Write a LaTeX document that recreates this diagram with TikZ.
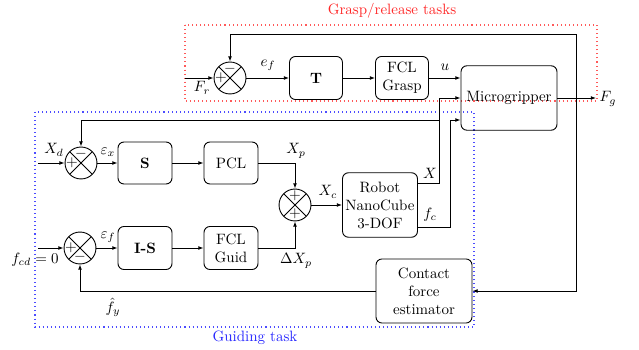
\documentclass[tikz,border=0pt]{standalone}
\usetikzlibrary{arrows.meta,calc}
\begin{document}
\begin{tikzpicture}[x=0.6667pt,y=-0.6667pt,
  blk/.style={draw,rounded corners=4pt,line width=0.6pt,align=center,inner sep=1pt},
  sumc/.style={draw,circle,line width=0.6pt,minimum size=21.3pt,inner sep=0pt,
    path picture={\draw[line width=0.6pt] (path picture bounding box.north west) -- (path picture bounding box.south east)
      (path picture bounding box.north east) -- (path picture bounding box.south west);}},
  arr/.style={-{Latex[length=3.5pt,width=2.6pt]},line width=0.6pt},
  ln/.style={line width=0.6pt},
  sgn/.style={inner sep=0pt}]
\useasboundingbox (0,0) rectangle (639,350);

% frames
\draw[red!65,dotted,line width=0.7pt] (185,25) rectangle (597,101);
\node[red!85] at (392,11) {Grasp/release tasks};
\draw[blue!70,dotted,line width=0.7pt] (35,112) rectangle (474,327);
\node[blue!85] at (255,338) {Guiding task};

% grasp row
\node[sumc] (sT) at (230,78) {};
\node[blk,minimum width=35.3pt,minimum height=28.7pt] (T) at (316,78) {\textbf{T}};
\node[blk,minimum width=35.3pt,minimum height=28.7pt] (FG) at (402,78) {FCL\\Grasp};
\node[blk,minimum width=64pt,minimum height=43pt] (MG) at (509,98) {Microgripper};

% guiding rows
\node[sumc] (sX) at (81,163) {};
\node[blk,minimum width=36pt,minimum height=28pt] (S) at (145,163) {\textbf{S}};
\node[blk,minimum width=36pt,minimum height=28pt] (PCL) at (231,163) {PCL};
\node[sumc] (sC) at (295,205) {};
\node[blk,minimum width=50pt,minimum height=43pt] (R) at (380,205) {Robot\\NanoCube\\3-DOF};
\node[sumc] (sF) at (80,248) {};
\node[blk,minimum width=36pt,minimum height=28.7pt] (IS) at (145,248) {\textbf{I-S}};
\node[blk,minimum width=36pt,minimum height=28.7pt] (FGu) at (231,248) {FCL\\Guid};
\node[blk,minimum width=64pt,minimum height=42.7pt] (CFE) at (424,291) {Contact\\force\\estimator};

% signs
\node[sgn] at ($(sT)+(0,-9)$) {$-$};
\node[sgn] at ($(sT)+(-9,0)$) {$+$};
\node[sgn] at ($(sX)+(0,-9)$) {$-$};
\node[sgn] at ($(sX)+(-9,0)$) {$+$};
\node[sgn] at ($(sC)+(0,-9)$) {$+$};
\node[sgn] at ($(sC)+(0,9)$) {$+$};
\node[sgn] at ($(sF)+(-9,0)$) {$+$};
\node[sgn] at ($(sF)+(0,9)$) {$-$};

% coordinates
\coordinate (Fr) at (185,78);
\coordinate (Xd) at (38,163);
\coordinate (fcd) at (38,248);
\coordinate (Xo) at (418,183);
\coordinate (Xb) at (439,98);
\coordinate (Xj) at (439,120);
\coordinate (fo) at (418,227);
\coordinate (fb) at (450,120);
\coordinate (Fg) at (596,98);
\coordinate (Lj) at (576,98);
\coordinate (Lt) at (576,34);

% grasp connectors
\draw[arr] (Fr) -- (sT.west);
\draw[arr] (sT.east) -- (T.west);
\draw[arr] (T.east) -- (FG.west);
\draw[arr] (FG.east) -- (FG.east -| MG.west);
\draw[arr] (MG.east |- Fg) -- (Fg);
\draw[arr] (Lj) -- (Lt) -| (sT.north);
\draw[arr] (Lj) |- (CFE.east);

% guiding connectors
\draw[arr] (Xd) -- (sX.west);
\draw[arr] (sX.east) -- (S.west);
\draw[arr] (S.east) -- (PCL.west);
\draw[arr] (PCL.east) -| (sC.north);
\draw[arr] (sC.east) -- (R.west);
\draw[arr] (fcd) -- (sF.west);
\draw[arr] (sF.east) -- (IS.west);
\draw[arr] (IS.east) -- (FGu.west);
\draw[arr] (FGu.east) -| (sC.south);
\draw[arr] (CFE.west) -| (sF.south);

% robot outputs
\draw[ln] (Xo) -| (Xb);
\draw[arr] (Xb) -- (Xb -| MG.west);
\draw[arr] (Xj) -| (sX.north);
\draw[ln] (fo) -| (fb);
\draw[arr] (fb) -- (fb -| MG.west);

% labels
\node at (202,88) {$F_r$};
\node at (268,65) {$e_f$};
\node at (445,67) {$u$};
\node at (608,99) {$F_g$};
\node at (54,150) {$X_d$};
\node at (108,152) {$\varepsilon_x$};
\node at (296,151) {$X_p$};
\node at (328,192) {$X_c$};
\node at (430,173) {$X$};
\node at (430,215) {$f_c$};
\node at (108,237) {$\varepsilon_f$};
\node at (296,261) {$\Delta X_p$};
\node at (35,260) {$f_{cd}=0$};
\node at (113,307) {$\hat{f}_y$};
\end{tikzpicture}
\end{document}
